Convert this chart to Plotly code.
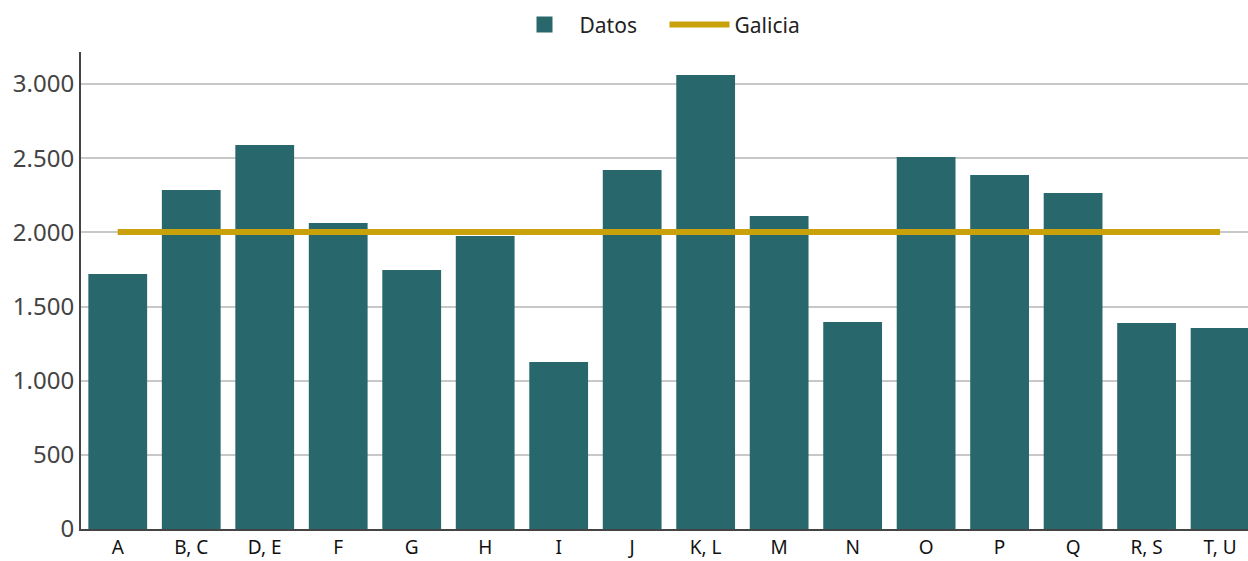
import plotly.graph_objs as go

# Datos por sector de actividad
categories = ["A", "B, C", "D, E", "F", "G", "H", "I", "J", "K, L", "M",
              "N", "O", "P", "Q", "R, S", "T, U"]
datos = [1719, 2285, 2589, 2063, 1746, 1975, 1126, 2420, 3061, 2110,
         1396, 2508, 2387, 2265, 1389, 1355]
galicia = [2002] * len(categories)

fig = go.Figure()
fig.add_trace(go.Bar(x=categories, y=datos, name="Datos", marker_color="#28686c",
                     marker_line_width=0, showlegend=False))
# entrada de leyenda con un cuadrado más grande
fig.add_trace(go.Scatter(x=[None], y=[None], name="Datos", mode="markers",
                         marker=dict(symbol="square", size=22, color="#28686c")))
fig.add_trace(go.Scatter(x=categories, y=galicia, name="Galicia", mode="lines",
                         line=dict(color="#c9a10a", width=6)))

fig.update_layout(
    width=1248, height=561,
    margin=dict(l=81, r=0, t=52, b=32),
    plot_bgcolor="white", paper_bgcolor="white",
    font=dict(family="Noto Sans", size=19, color="#222"),
    separators=",.",
    bargap=0.2,
    showlegend=True,
    legend=dict(orientation="h", x=0.5, xanchor="center", y=1.057, yanchor="middle",
                font=dict(size=21, color="#222"), itemwidth=60, entrywidth=80),
    xaxis=dict(range=[-0.5, 15.38], showline=True, linecolor="#444", linewidth=2,
               showgrid=False, ticks="", tickfont=dict(size=19, color="#111")),
    yaxis=dict(range=[0, 3216], dtick=500, tickformat=",d", showline=True,
               linecolor="#444", linewidth=2,
               gridcolor="#c8c8c8", gridwidth=1.5, zeroline=False,
               tickfont=dict(size=24, color="#444"), ticks=""),
)

fig.write_html("out.html", config={"displayModeBar": False},
               post_script="document.body.style.margin='0';")
